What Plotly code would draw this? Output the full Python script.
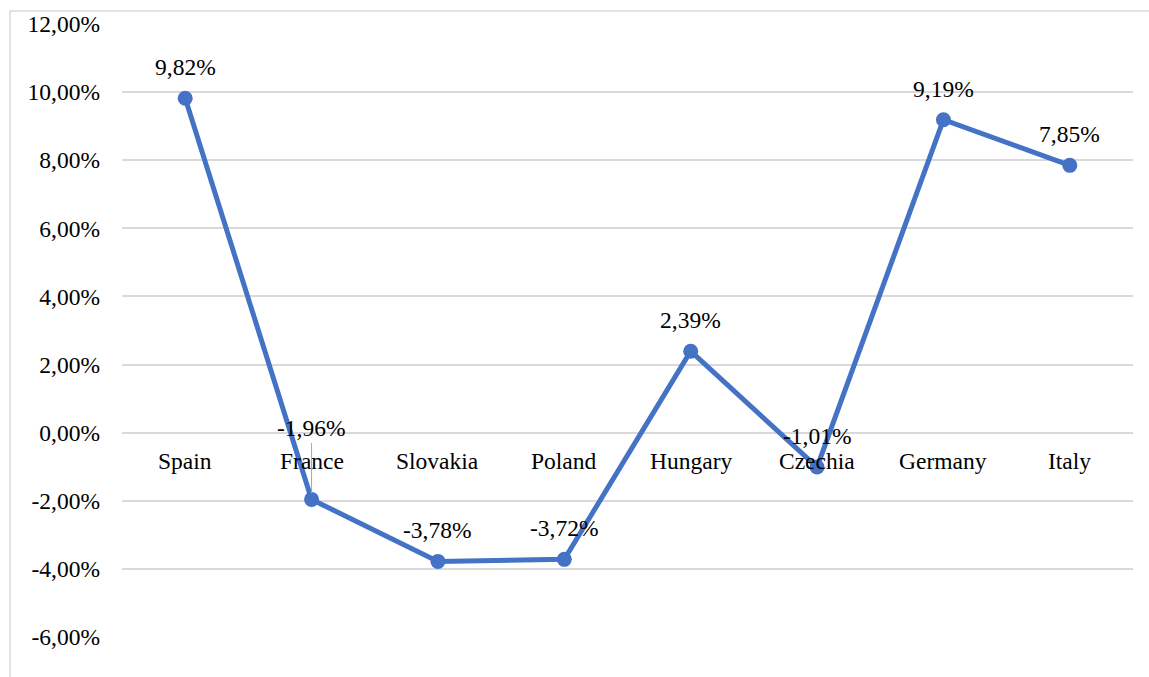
import plotly.graph_objects as go

categories = ["Spain", "France", "Slovakia", "Poland", "Hungary", "Czechia", "Germany", "Italy"]
values = [9.82, -1.96, -3.78, -3.72, 2.39, -1.01, 9.19, 7.85]
y_ticks = [-6, -4, -2, 0, 2, 4, 6, 8, 10, 12]

FONT = "Times New Roman, Liberation Serif, DejaVu Serif, serif"
FS = 23.5
W, H = 1149, 677
ML, MR, MT, MB = 122, 16, 24, 40

def pct(v):
    return f"{v:.2f}%".replace(".", ",")

fig = go.Figure()
fig.add_trace(go.Scatter(
    x=list(range(len(categories))), y=values, mode="lines+markers",
    line=dict(color="#4472C4", width=5),
    marker=dict(color="#4472C4", size=15),
    hoverinfo="skip", showlegend=False,
))

annotations = []
for i, (c, v) in enumerate(zip(categories, values)):
    annotations.append(dict(x=i, y=0, xref="x", yref="y", text=c, showarrow=False,
                            yanchor="middle", yshift=-28,
                            font=dict(family=FONT, size=FS, color="black")))
    if c == "France":
        annotations.append(dict(x=i, y=v, xref="x", yref="y", text=pct(v), showarrow=True,
                                ax=0, ay=-71, arrowhead=0, arrowwidth=1, arrowcolor="#a6a6a6",
                                standoff=6,
                                font=dict(family=FONT, size=FS, color="black")))
    else:
        annotations.append(dict(x=i, y=v, xref="x", yref="y", text=pct(v), showarrow=False,
                                yanchor="middle", yshift=31,
                                font=dict(family=FONT, size=FS, color="black")))

pw = W - ML - MR
ph = H - MT - MB
def px_x(p):
    return (p - ML) / pw
def px_y(p):
    return (H - MB - p) / ph

shapes = [
    dict(type="line", xref="paper", yref="paper", x0=px_x(10), x1=px_x(1160), y0=px_y(11), y1=px_y(11),
         line=dict(color="#d9d9d9", width=1.5)),
    dict(type="line", xref="paper", yref="paper", x0=px_x(10), x1=px_x(10), y0=px_y(11), y1=px_y(700),
         line=dict(color="#d9d9d9", width=1.5)),
]

fig.update_layout(
    width=W, height=H,
    margin=dict(l=ML, r=MR, t=MT, b=MB),
    plot_bgcolor="white", paper_bgcolor="white",
    font=dict(family=FONT, size=FS, color="black"),
    xaxis=dict(range=[-0.5, len(categories) - 0.5], showgrid=False, zeroline=False,
               showticklabels=False, showline=False, fixedrange=True),
    yaxis=dict(range=[-6, 12], tickvals=y_ticks, ticktext=[pct(t) for t in y_ticks],
               showgrid=True, gridcolor="#d9d9d9", gridwidth=1.5, zeroline=False,
               showline=False, ticks="", ticklabelstandoff=21,
               tickfont=dict(family=FONT, size=FS, color="black")),
    annotations=annotations,
    shapes=shapes,
)

fig.write_html("out.html")
